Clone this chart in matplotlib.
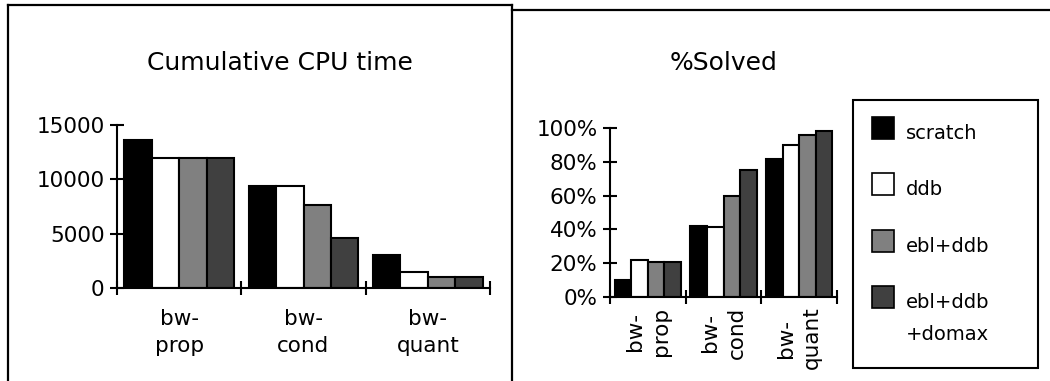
import matplotlib
matplotlib.use("Agg")
import matplotlib.pyplot as plt
import numpy as np
from matplotlib.patches import Rectangle
from matplotlib.lines import Line2D

categories = ["bw-\nprop", "bw-\ncond", "bw-\nquant"]
series = ["scratch", "ddb", "ebl+ddb", "ebl+ddb\n+domax"]
colors = ["#000000", "#ffffff", "#808080", "#404040"]

cpu_time = {
    "scratch": [13600, 9400, 3050],
    "ddb": [12000, 9400, 1500],
    "ebl+ddb": [12000, 7600, 1050],
    "ebl+ddb\n+domax": [12000, 4600, 1050],
}
solved = {
    "scratch": [0.10, 0.42, 0.815],
    "ddb": [0.22, 0.415, 0.90],
    "ebl+ddb": [0.21, 0.60, 0.96],
    "ebl+ddb\n+domax": [0.21, 0.75, 0.985],
}
cpu_ticks = [0, 5000, 10000, 15000]
pct_ticks = [0, 0.2, 0.4, 0.6, 0.8, 1.0]
pct_labels = ["0%", "20%", "40%", "60%", "80%", "100%"]

W, H = 1050, 381
fig = plt.figure(figsize=(W / 100, H / 100), dpi=100)
plt.rcParams['font.family'] = ['DejaVu Sans']

def fx(px):
    return px / W

def fy(py):
    return 1 - py / H

def axes_px(x0, x1, ytop, ybot):
    return fig.add_axes([fx(x0), fy(ybot), fx(x1) - fx(x0), (ybot - ytop) / H])

lw = 1.5
bw = 0.22
offsets = (np.arange(4) - 1.5) * bw
x = np.arange(len(categories))

def style_axes(ax, ylim, yticks, ylabels):
    ax.set_xlim(-0.5, len(categories) - 0.5)
    ax.set_ylim(*ylim)
    for s in ["top", "right"]:
        ax.spines[s].set_visible(False)
    for s in ["left", "bottom"]:
        ax.spines[s].set_linewidth(lw)
        ax.spines[s].set_color("black")
    ax.set_yticks(yticks)
    ax.set_yticklabels(ylabels, fontsize=15.5)
    ax.tick_params(axis="y", direction="inout", length=10, width=lw, pad=4)
    ax.set_xticks(x)
    ax.set_xticks(np.arange(len(categories) + 1) - 0.5, minor=True)
    ax.tick_params(axis="x", which="minor", direction="inout", length=10, width=lw)
    ax.tick_params(axis="x", which="major", length=0)
    ax.patch.set_visible(False)

# Left chart
ax1 = axes_px(117, 490, 125, 288)
for i, s in enumerate(series):
    ax1.bar(x + offsets[i], cpu_time[s], width=bw, color=colors[i],
            edgecolor="black", linewidth=lw, zorder=2)
style_axes(ax1, (0, 15000), cpu_ticks, [str(t) for t in cpu_ticks])
ax1.set_xticklabels(categories, fontsize=15.5, linespacing=1.45)
ax1.tick_params(axis="x", which="major", pad=15)

# Right chart
ax2 = axes_px(610, 837, 128, 297)
for i, s in enumerate(series):
    ax2.bar(x + offsets[i], solved[s], width=bw, color=colors[i],
            edgecolor="black", linewidth=lw, zorder=2)
style_axes(ax2, (0, 1.0), pct_ticks, pct_labels)
ax2.set_xticklabels(categories, fontsize=15.5, rotation=90, linespacing=1.4,
                    ha="center", va="top")
ax2.tick_params(axis="x", which="major", pad=7)

# Titles
fig.text(fx(280), fy(70), "Cumulative CPU time", fontsize=18, ha="center", va="baseline")
fig.text(fx(724), fy(70), "%Solved", fontsize=18, ha="center", va="baseline")

# Panel frames
frame_kw = dict(color="black", linewidth=1.6, transform=fig.transFigure)
fig.add_artist(Line2D([fx(8), fx(8)], [fy(5), fy(390)], **frame_kw))
fig.add_artist(Line2D([fx(8), fx(512)], [fy(5), fy(5)], **frame_kw))
fig.add_artist(Line2D([fx(512), fx(512)], [fy(5), fy(390)], **frame_kw))
fig.add_artist(Line2D([fx(512), fx(1060)], [fy(10), fy(10)], **frame_kw))

# Legend
fig.add_artist(Rectangle((fx(853), fy(368)), fx(1038) - fx(853), (368 - 100) / H,
                         facecolor="white", edgecolor="black", linewidth=1.5,
                         transform=fig.transFigure))
row_y = [128, 184, 241, 297]
for i, s in enumerate(series):
    cy = row_y[i]
    fig.add_artist(Rectangle((fx(872), fy(cy + 11)), fx(894) - fx(872), 22 / H,
                             facecolor=colors[i], edgecolor="black", linewidth=1.2,
                             transform=fig.transFigure))
    for k, line in enumerate(s.split("\n")):
        fig.text(fx(906), fy(cy + 11 + 32 * k), line, fontsize=14,
                 ha="left", va="baseline")

fig.savefig("out.png", dpi=100)
